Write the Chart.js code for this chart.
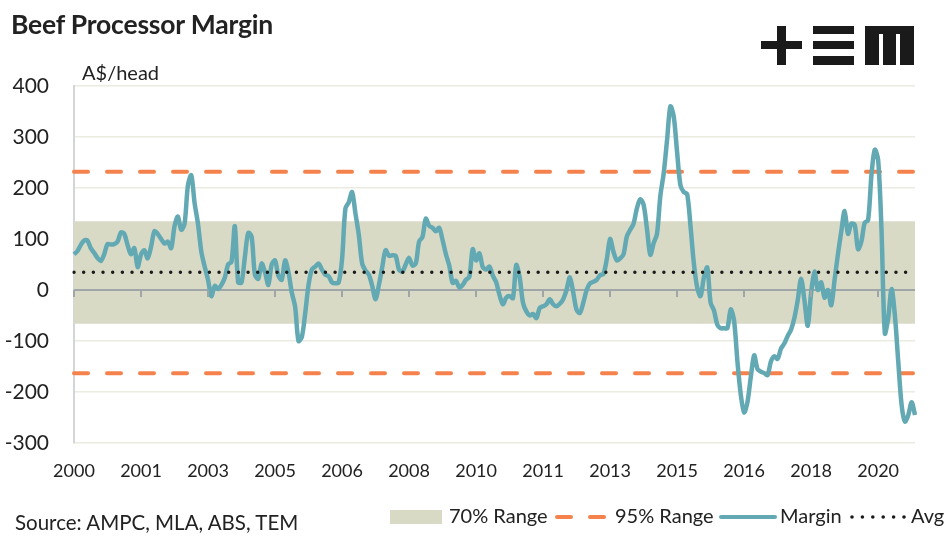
<!DOCTYPE html>
<html>
<head>
<meta charset="utf-8">
<title>Beef Processor Margin</title>
<script src="https://cdn.jsdelivr.net/npm/chart.js@4.4.1/dist/chart.umd.min.js"></script>
<style>
  html, body { margin: 0; padding: 0; background: #fff; }
  #wrap { position: relative; width: 947px; height: 543px; font-family: Lato, sans-serif; color: #222; }
  #chart { position: absolute; left: 0; top: 0; }
  .txt { position: absolute; white-space: nowrap; line-height: 1.2; }
  .title { left: 11px; top: 9px; font-size: 26.5px; font-weight: bold; letter-spacing: -0.2px; }
  .unit { left: 82px; top: 60px; font-size: 20px; }
  .source { left: 15px; top: 510px; font-size: 20.5px; }
  .logo { position: absolute; background: #1a1a1a; }
</style>
</head>
<body>
<div id="wrap">
  <canvas id="chart" width="947" height="543"></canvas>
  <div class="txt title">Beef Processor Margin</div>
  <div class="txt unit">A$/head</div>
  <div class="txt source">Source: AMPC, MLA, ABS, TEM</div>
  <!-- TEM logo -->
  <div class="logo" style="left:761px;top:41px;width:41px;height:8px"></div>
  <div class="logo" style="left:777px;top:26px;width:9px;height:39px"></div>
  <div class="logo" style="left:813px;top:26px;width:41px;height:8px"></div>
  <div class="logo" style="left:813px;top:41px;width:41px;height:8px"></div>
  <div class="logo" style="left:813px;top:56px;width:41px;height:9px"></div>
  <div class="logo" style="left:865px;top:26px;width:49px;height:8px"></div>
  <div class="logo" style="left:865px;top:26px;width:14px;height:39px"></div>
  <div class="logo" style="left:883px;top:26px;width:13px;height:39px"></div>
  <div class="logo" style="left:900px;top:26px;width:14px;height:39px"></div>
</div>
<script>
// Monthly margin, Jan 2000 .. Dec 2020 (one row per year)
const margin = [
  70, 76, 88, 97, 97, 82, 73, 63, 57, 70, 90, 89,
  90, 95, 113, 110, 88, 70, 82, 45, 70, 78, 62, 85,
  115, 110, 100, 91, 95, 82, 125, 144, 118, 130, 205, 225,
  170, 130, 75, 46, 20, -12, 8, 2, 10, 24, 50, 55,
  125, 15, 15, 65, 112, 105, 30, 22, 52, 35, 10, 50,
  58, 28, 20, 58, 35, -5, -33, -100, -92, -46, 10, 40,
  46, 52, 40, 30, 27, 15, 13, 15, 60, 160, 172, 192,
  150, 108, 52, 38, 30, 8, -18, 10, 45, 78, 67, 68,
  67, 40, 36, 50, 63, 48, 52, 95, 104, 140, 126, 122,
  115, 122, 98, 70, 48, 14, 18, 5, 10, 20, 26, 80,
  58, 72, 45, 40, 46, 28, 15, -10, -28, -15, -12, -16,
  49, 25, -25, -42, -50, -47, -55, -35, -32, -28, -18, -28,
  -32, -27, -18, 0, 25, -5, -39, -45, -25, 0, 13, 16,
  20, 29, 31, 60, 100, 75, 58, 62, 70, 105, 118, 130,
  160, 178, 167, 120, 69, 92, 110, 185, 229, 294, 360, 340,
  270, 205, 192, 188, 125, 52, 5, -12, 25, 44, -25, -40,
  -68, -75, -75, -75, -38, -60, -140, -205, -240, -220, -170, -128,
  -155, -160, -163, -167, -140, -130, -135, -115, -105, -90, -78, -55,
  -20, 22, -20, -70, -5, 36, 0, 15, -15, 0, -30, 20,
  70, 115, 155, 110, 130, 128, 80, 95, 132, 137, 225, 275,
  255, 118, -85, -55, 2, -50, -140, -225, -258, -245, -220, -245
];

const startYear = 2000;
const tickStep = 20; // a year label every 20 months
const tickYears = ['2000', '2001', '2003', '2005', '2006', '2008', '2010',
                   '2011', '2013', '2015', '2016', '2018', '2020'];
const yTicks = [400, 300, 200, 100, 0, -100, -200, -300];

const range70 = [-66, 135];
const range95 = [-163, 232];
const avg = 35;

const monthLabels = margin.map((_, i) =>
  `${startYear + Math.floor(i / 12)}-${String(i % 12 + 1).padStart(2, '0')}`);
const first = monthLabels[0];
const last = monthLabels[monthLabels.length - 1];
const flat = (v) => [{ x: first, y: v }, { x: last, y: v }];

const COLORS = {
  band: '#d9dac6',
  orange: '#f5824c',
  teal: '#62a9b3',
  avg: '#1a1a1a',
  grid: '#ecebe1',
  zero: '#a0a5a8',
  axis: '#d3d6d8',
  text: '#222'
};
const FONT = 'Lato, sans-serif';

// small tick marks hanging under the zero line, at each year label
const zeroTicksPlugin = {
  id: 'zeroTicks',
  afterDatasetsDraw(chart) {
    const { ctx, scales: { x, y } } = chart;
    const y0 = y.getPixelForValue(0);
    ctx.save();
    ctx.strokeStyle = COLORS.zero;
    ctx.lineWidth = 2;
    tickYears.forEach((_, k) => {
      const px = Math.round(x.getPixelForValue(k * tickStep));
      ctx.beginPath(); ctx.moveTo(px, y0); ctx.lineTo(px, y0 + 7); ctx.stroke();
    });
    ctx.restore();
  }
};

// legend drawn at the bottom right, like the source chart
const legendPlugin = {
  id: 'bottomLegend',
  afterDraw(chart) {
    const ctx = chart.ctx;
    const y = 517;
    ctx.save();
    ctx.font = `20px ${FONT}`;
    ctx.textBaseline = 'middle';

    ctx.fillStyle = COLORS.band;
    ctx.fillRect(390, y - 7, 52, 14);
    ctx.fillStyle = COLORS.text;
    ctx.fillText('70% Range', 449, y);

    ctx.strokeStyle = COLORS.orange;
    ctx.lineWidth = 4;
    ctx.lineCap = 'round';
    [[557, 571], [590, 604]].forEach(([a, b]) => {
      ctx.beginPath(); ctx.moveTo(a, y); ctx.lineTo(b, y); ctx.stroke();
    });
    ctx.fillText('95% Range', 615, y);

    ctx.strokeStyle = COLORS.teal;
    ctx.beginPath(); ctx.moveTo(721, y); ctx.lineTo(775, y); ctx.stroke();
    ctx.fillText('Margin', 780, y);

    ctx.fillStyle = COLORS.avg;
    for (let i = 0; i < 6; i++) {
      ctx.beginPath(); ctx.arc(852 + i * 10.4, y, 1.8, 0, Math.PI * 2); ctx.fill();
    }
    ctx.fillStyle = COLORS.text;
    ctx.fillText('Avg', 911, y);
    ctx.restore();
  }
};

new Chart(document.getElementById('chart'), {
  type: 'line',
  data: {
    labels: monthLabels,
    datasets: [
      {
        label: 'Avg', data: flat(avg), order: 1,
        borderColor: COLORS.avg, borderWidth: 3.5, borderDash: [0, 9.67],
        borderCapStyle: 'round', pointRadius: 0, fill: false
      },
      {
        label: 'Margin', data: margin, order: 2,
        borderColor: COLORS.teal, borderWidth: 4.5, tension: 0.3,
        borderJoinStyle: 'round', pointRadius: 0, fill: false
      },
      {
        label: '95% Range', data: flat(range95[1]), order: 3,
        borderColor: COLORS.orange, borderWidth: 4, borderDash: [14, 19],
        borderCapStyle: 'round', pointRadius: 0, fill: false
      },
      {
        label: '95% Range low', data: flat(range95[0]), order: 3,
        borderColor: COLORS.orange, borderWidth: 4, borderDash: [14, 19],
        borderCapStyle: 'round', pointRadius: 0, fill: false
      },
      {
        label: 'zero', data: flat(0), order: 4,
        borderColor: COLORS.zero, borderWidth: 2, pointRadius: 0, fill: false
      },
      {
        label: '70% Range', data: flat(range70[1]), order: 5,
        borderWidth: 0, borderColor: 'transparent', backgroundColor: COLORS.band,
        pointRadius: 0, fill: { value: range70[0] }
      }
    ]
  },
  options: {
    responsive: false,
    animation: false,
    layout: { padding: { left: 0, right: 32, top: 86, bottom: 50 } },
    plugins: {
      legend: { display: false },
      tooltip: { enabled: false }
    },
    scales: {
      x: {
        type: 'category',
        grid: { display: false, drawTicks: false },
        border: { display: false },
        ticks: {
          autoSkip: false, maxRotation: 0, padding: 17,
          color: COLORS.text, font: { family: FONT, size: 18 },
          callback: (value) => tickYears[value / tickStep]
        },
        afterBuildTicks: (s) => { s.ticks = s.ticks.filter(t => t.value % tickStep === 0); },
        afterFit: (s) => { s.height = 50; }
      },
      y: {
        min: -300, max: 400,
        afterBuildTicks: (s) => { s.ticks = yTicks.map(v => ({ value: v })); },
        ticks: { padding: 25, color: COLORS.text, font: { family: FONT, size: 21 } },
        grid: {
          color: (c) => c.tick && c.tick.value === 0 ? 'transparent' : COLORS.grid,
          lineWidth: 1.5, drawTicks: false
        },
        border: { display: true, color: COLORS.axis, width: 2 },
        afterFit: (s) => { s.width = 74; }
      }
    }
  },
  plugins: [zeroTicksPlugin, legendPlugin]
});
</script>
</body>
</html>
